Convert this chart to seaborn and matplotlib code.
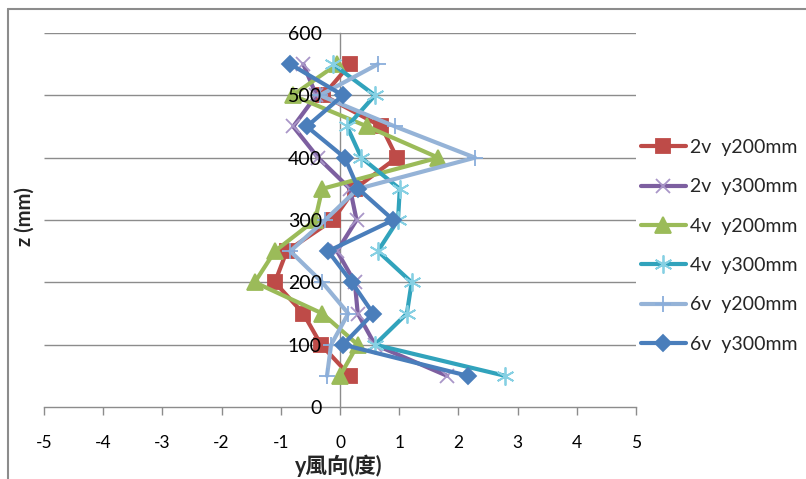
import matplotlib
matplotlib.use("Agg")
import matplotlib.pyplot as plt
import seaborn as sns
import pandas as pd
from matplotlib.lines import Line2D

# Height above floor (mm) and y-direction wind angle (degrees) per case
z_mm = [50, 100, 150, 200, 250, 300, 350, 400, 450, 500, 550]
v2_y200 = [0.17, -0.32, -0.62, -1.10, -0.90, -0.12, 0.25, 0.96, 0.70, -0.28, 0.17]
v2_y300 = [1.81, 0.59, 0.30, 0.25, -0.05, 0.28, 0.17, -0.37, -0.79, -0.40, -0.62]
v4_y200 = [0.00, 0.30, -0.30, -1.44, -1.10, -0.42, -0.30, 1.66, 0.46, -0.80, -0.05]
v4_y300 = [2.79, 0.59, 1.13, 1.21, 0.64, 0.98, 1.01, 0.36, 0.12, 0.59, -0.12]
v6_y200 = [-0.22, -0.15, 0.14, -0.30, -0.84, -0.25, 0.30, 2.28, 0.93, -0.34, 0.64]
v6_y300 = [2.16, 0.05, 0.56, 0.20, -0.20, 0.90, 0.31, 0.08, -0.56, 0.05, -0.84]

labels = ["2v  y200mm", "2v  y300mm", "4v  y200mm", "4v  y300mm", "6v  y200mm", "6v  y300mm"]
values = [v2_y200, v2_y300, v4_y200, v4_y300, v6_y200, v6_y300]

x_ticks = [-5, -4, -3, -2, -1, 0, 1, 2, 3, 4, 5]
y_ticks = [0, 100, 200, 300, 400, 500, 600]

# line colour, marker, marker face, marker edge, marker size
styles = [
    ("#BE4B48", "s", "#BE4B48", "#BE4B48", 10),
    ("#7D5FA0", "x", "none", "#A996C8", 10),
    ("#9BBB59", "^", "#9BBB59", "#9BBB59", 11),
    ("#31A3BC", (6, 2, 0), "none", "#86D0E3", 13),
    ("#95B3D7", "+", "none", "#8AAEDB", 12),
    ("#4A7EBB", "D", "#4A7EBB", "#4A7EBB", 8),
]

sns.set_theme(style="white")
plt.rcParams["font.family"] = ["Lato", "Noto Sans CJK TC", "DejaVu Sans"]

fig = plt.figure(figsize=(8.06, 4.79), dpi=100)
ax = fig.add_axes([44 / 806, 1 - 407 / 479, 592 / 806, 374 / 479])

handles = []
for lab, vals, (col, mk, mfc, mec, ms) in zip(labels, values, styles):
    df = pd.DataFrame({"x": vals, "z": z_mm})
    sns.lineplot(data=df, x="x", y="z", sort=False, estimator=None, ax=ax,
                 color=col, linewidth=3, marker=mk, markersize=ms,
                 markerfacecolor=mfc, markeredgecolor=mec, markeredgewidth=1.3,
                 zorder=3)
    handles.append(Line2D([], [], color=col, linewidth=3, marker=mk, markersize=ms,
                          markerfacecolor=mfc, markeredgecolor=mec,
                          markeredgewidth=1.3))

ax.set_xlim(-5, 5)
ax.set_ylim(0, 600)
ax.set_xticks(x_ticks)
ax.set_xticklabels([str(t) for t in x_ticks])
ax.set_yticks(y_ticks)
ax.set_yticklabels([str(t) for t in y_ticks])

# horizontal gridlines behind the series
ax.grid(False)
ax.hlines(y_ticks[1:], -5, 5, colors="#8C8C8C", linewidth=1.0, zorder=0.5)

for s in ["top", "right"]:
    ax.spines[s].set_visible(False)
ax.spines["left"].set_position(("data", 0))
ax.spines["left"].set_color("#8C8C8C")
ax.spines["left"].set_linewidth(1.0)
ax.spines["bottom"].set_color("#8C8C8C")
ax.spines["bottom"].set_linewidth(1.0)
ax.spines["left"].set_zorder(0.6)

ax.tick_params(axis="x", direction="out", length=6, width=1, color="#8C8C8C",
               pad=14, labelsize=12.5, labelcolor="#000000", bottom=True)
ax.tick_params(axis="y", length=0, pad=13, labelsize=14, labelcolor="#000000", left=True)
ax.yaxis.set_zorder(5)
ax.set_xlabel("")
ax.set_ylabel("")
ax.patch.set_alpha(0)

fig.text(339 / 806, 1 - 466 / 479, "y風向(度)", ha="center", va="center",
         fontsize=15.5, fontweight="bold")
fig.text(25 / 806, 1 - 217 / 479, "z (mm)", ha="center", va="center",
         rotation=90, fontsize=14.5, fontweight="bold")

fig.legend(handles, labels, loc="upper left", bbox_to_anchor=(641 / 806, 1 - 139 / 479),
           frameon=False, fontsize=14, handlelength=2.3, handletextpad=0.2,
           labelspacing=1.15, borderpad=0, borderaxespad=0)

# chart area border
fig.add_artist(Line2D([8 / 806, 8 / 806], [0, 1 - 9 / 479], transform=fig.transFigure,
                      color="#8C8C8C", linewidth=1.5))
fig.add_artist(Line2D([8 / 806, 1], [1 - 9 / 479, 1 - 9 / 479], transform=fig.transFigure,
                      color="#8C8C8C", linewidth=1.5))

fig.savefig("out.png", dpi=100)
